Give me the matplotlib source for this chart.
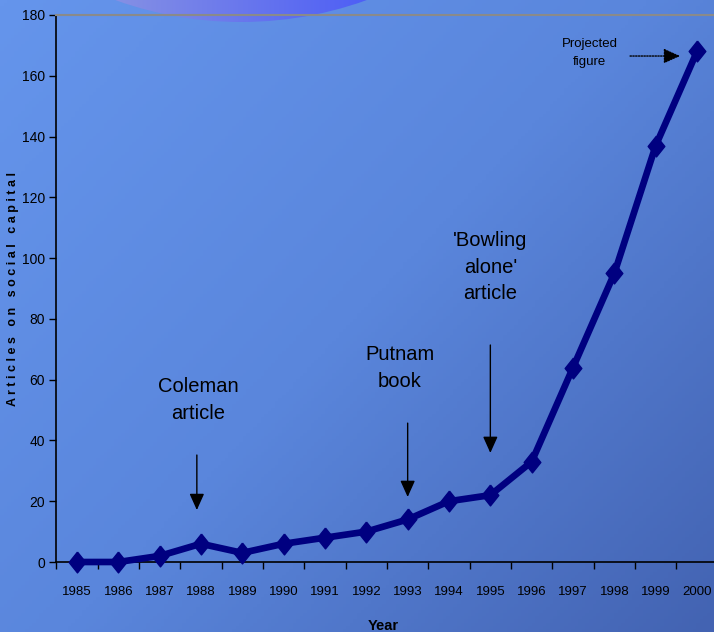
import numpy as np
import matplotlib
matplotlib.use("Agg")
import matplotlib.pyplot as plt
from matplotlib.patches import Ellipse
from matplotlib.colors import LinearSegmentedColormap

plt.rcParams['font.family'] = ['Liberation Sans', 'DejaVu Sans']

# data
years = ['1985', '1986', '1987', '1988', '1989', '1990', '1991', '1992',
         '1993', '1994', '1995', '1996', '1997', '1998', '1999', '2000']
articles = [0, 0, 2, 6, 3, 6, 8, 10, 14, 20, 22, 33, 64, 95, 137, 168]

fig = plt.figure(figsize=(7.14, 6.32), dpi=100)

# background gradient (light top-left, darker bottom-right)
bg = fig.add_axes([0, 0, 1, 1], zorder=0)
bg.set_axis_off()
gx, gy = np.meshgrid(np.linspace(0, 1, 200), np.linspace(0, 1, 200))
grad = (gx * 0.55 + gy * 0.45)
bg_cmap = LinearSegmentedColormap.from_list('bg', ['#6595ec', '#5a86dc', '#4363b2'])
bg.imshow(grad, cmap=bg_cmap, extent=[0, 1, 0, 1], aspect='auto', origin='upper')
bg.set_xlim(0, 1)
bg.set_ylim(0, 1)

# the round shape peeking in at the top
ell_cmap = LinearSegmentedColormap.from_list('ell', ['#8590e4', '#4d5ef6'])
im = bg.imshow(np.linspace(0, 1, 100).reshape(1, -1), cmap=ell_cmap,
               extent=[0.16, 0.52, 0.95, 1.0], aspect='auto')
circ = Ellipse((241 / 714, 1 - (22 - 372) / 632), 2 * 372 / 714, 2 * 372 / 632,
               transform=bg.transAxes, facecolor='none', edgecolor='none')
bg.add_patch(circ)
im.set_clip_path(circ)

ax = fig.add_axes([56.3 / 714, 1 - 562 / 632, 661.4 / 714, 547 / 632], zorder=1)
ax.patch.set_alpha(0)

x = np.arange(len(years))
diamond = [(0, 1), (0.8, 0), (0, -1), (-0.8, 0), (0, 1)]
ax.plot(x, articles, color='#000080', linewidth=4.8, marker=diamond,
        markersize=15, markerfacecolor='#000080', markeredgecolor='#000080',
        clip_on=False, zorder=3)

ax.set_xlim(-0.5, len(years) - 0.5)
ax.set_ylim(0, 180)
ax.set_yticks(np.arange(0, 181, 20))
ax.set_xticks(x)
ax.set_xticklabels(years)
ax.set_xticks(np.arange(-0.5, len(years), 1), minor=True)
ax.tick_params(axis='x', which='major', length=0, pad=17, labelsize=9.5)
ax.tick_params(axis='x', which='minor', length=5, width=1, color='black')
ax.tick_params(axis='y', length=5, width=1, labelsize=10, pad=3)

ax.spines['right'].set_visible(False)
ax.spines['top'].set_color('#8a8a8a')
ax.spines['top'].set_linewidth(1.5)
ax.spines['left'].set_linewidth(1.2)
ax.spines['bottom'].set_linewidth(1.2)

ax.set_ylabel('A r t i c l e s   o n   s o c i a l   c a p i t a l',
              fontsize=9, fontweight='bold')
ax.yaxis.set_label_coords(-0.056, 0.5)
ax.set_xlabel('Year', fontsize=10.5, fontweight='bold')
ax.xaxis.set_label_coords(0.494, -0.104)

arrow = dict(arrowstyle='-|>,head_length=1.0,head_width=0.45', color='black', lw=1,
             shrinkA=0, shrinkB=0)
txt = dict(fontsize=14.5, ha='center', va='center', linespacing=1.5)

ax.text(2.93, 53.3, 'Coleman\narticle', **txt)
ax.annotate('', xy=(2.9, 17.1), xytext=(2.9, 35.2), arrowprops=arrow)

ax.text(7.81, 63.8, 'Putnam\nbook', **txt)
ax.annotate('', xy=(8, 21.4), xytext=(8, 45.7), arrowprops=arrow)

ax.text(10, 97, "'Bowling\nalone'\narticle", **txt)
ax.annotate('', xy=(10, 35.9), xytext=(10, 71.4), arrowprops=arrow)

ax.text(12.41, 167.5, 'Projected\nfigure', fontsize=9.5, ha='center', va='center',
        linespacing=1.6)
ax.annotate('', xy=(14.59, 166.5), xytext=(13.38, 166.5),
            arrowprops=dict(arrowstyle='-|>,head_length=1.0,head_width=0.45',
                            color='black', lw=1, linestyle=(0, (1, 1)),
                            shrinkA=0, shrinkB=0))

fig.savefig('out.png', dpi=100)
